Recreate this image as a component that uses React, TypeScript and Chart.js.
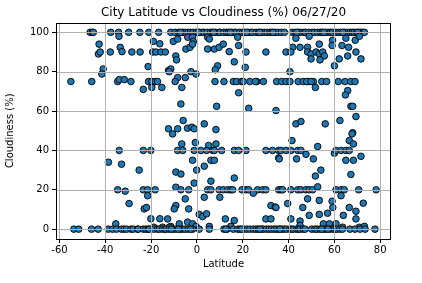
import React, { useEffect, useRef } from "react";
import { Chart, registerables } from "chart.js";

Chart.register(...registerables);

const chartTitle = "City Latitude vs Cloudiness (%) 06/27/20";
const xTickValues = [-60, -40, -20, 0, 20, 40, 60, 80];
const yTickValues = [0, 20, 40, 60, 80, 100];

const cloud100Lats = [-46.6, -45.6, -45.2, -37.6, -34.2, -29.8, -24.9, -21.0, -16.7, -11.4, -9.5, -7.9, -6.2, -5.4, -3.9, -2.8, -1.7, -0.3, 1.2, 2.6, 3.1, 4.4, 5.9, 6.8, 8.2, 9.6, 10.1, 11.7, 12.9, 13.8, 15.2, 16.4, 17.1, 18.6, 19.9, 20.8, 22.3, 23.5, 24.2, 25.8, 26.9, 28.1, 29.4, 30.6, 31.8, 32.7, 34.1, 35.3, 36.8, 38.2, 41.6, 42.9, 44.2, 45.1, 46.7, 47.4, 48.8, 50.2, 51.3, 52.6, 53.9, 54.7, 56.1, 57.3, 58.4, 59.2, 60.7, 61.9, 62.8, 64.3, 65.4, 66.9, 67.8, 68.6, 69.7, 70.8, 71.5, 72.3, 73.1, -7.2, 0.6, 7.3, 14.6, 21.7, 27.4, 33.2, 43.6, 55.4, 63.7, 70.2];

const cloud75Lats = [-55.0, -45.9, -34.6, -28.8, -21.1, -19.7, -18.2, -17.2, -9.5, 7.9, 11.8, 15.9, 17.3, 19.5, 20.2, 23.1, 26.1, 29.0, 34.8, 37.0, 38.9, 40.6, 44.2, 46.4, 48.6, 50.8, 54.5, 56.6, 61.7, 64.6, 67.1, 69.0, 25.5, 47.9, 49.8];

const cloud40Lats = [-33.9, -23.4, -20.1, -8.4, -6.2, -1.2, 1.7, 6.9, 7.6, 16.3, 18.2, 21.4, 30.1, 33.0, 35.7, 36.7, 38.9, 41.0, 44.0, 45.4, 60.7, 62.9, 65.0, 66.5, 4.2, 10.8];

const cloud20Lats = [-34.6, -23.4, -21.5, -18.2, -7.0, -3.6, 4.7, 6.1, 9.7, 11.5, 13.4, 14.8, 15.6, 19.7, 21.4, 22.6, 26.5, 28.7, 30.1, 35.7, 36.7, 37.4, 41.0, 44.0, 45.4, 47.6, 49.0, 50.5, 60.7, 62.9, 64.3, 70.6, 78.2];

const cloud0Lats = [-53.7, -51.6, -46.0, -43.1, -38.7, -36.8, -35.1, -32.9, -31.7, -30.7, -28.8, -27.8, -25.9, -25.6, -23.4, -22.3, -21.3, -20.8, -18.8, -17.2, -16.4, -15.0, -14.0, -13.5, -12.1, -10.3, -9.2, -7.4, -6.3, -5.2, -3.8, -1.9, 1.0, 5.4, 11.8, 13.2, 15.9, 17.8, 18.8, 20.4, 21.7, 23.1, 24.6, 25.8, 26.8, 28.2, 29.0, 30.4, 31.5, 32.6, 33.8, 34.8, 35.9, 37.0, 38.1, 39.2, 40.6, 41.3, 42.1, 43.5, 44.3, 45.0, 46.4, 47.2, 50.1, 51.5, 52.4, 53.7, 55.2, 56.3, 58.1, 59.5, 60.2, 61.0, 62.4, 63.5, 66.8, 69.0, 71.2, 73.4, 77.7, -11.2, -8.1, -2.7, 12.6, 19.6, 27.5, 36.2, 54.4, 57.2];

const upperCities: [number, number][] = [
  [-34.0, 98], [-10.3, 95.4], [-8.4, 96.6], [-4.0, 97.5], [-1.9, 97.5], [-1.6, 95.4], [4.7, 97.5], [5.4, 96.6], [17.8, 97.5], [18.2, 93.3],
  [43.2, 97], [49.0, 98], [59.2, 96], [65.0, 97], [69.1, 96], [70.9, 98], [-42.7, 94], [-19.0, 95.4], [-16.2, 94.2], [-43.0, 89],
  [-42.2, 90], [-37.8, 90], [-33.5, 92.4], [-32.7, 90.2], [-28.4, 90], [-24.8, 90], [-19.3, 90], [-17.9, 90], [-15.7, 90], [-13.8, 90],
  [-4.8, 91.5], [-3.0, 92.4], [-1.9, 94], [4.7, 91.5], [7.6, 91.5], [9.7, 92.4], [11.5, 94], [14.1, 90.2], [21.4, 90], [30.1, 90],
  [41.8, 92.4], [45.0, 92.4], [48.3, 92.4], [53.4, 94], [59.0, 93.3], [63.3, 93.3], [66.2, 92.4], [38.9, 90], [41.0, 90], [48.3, 90],
  [49.8, 89], [52.0, 90], [53.4, 89], [54.9, 90], [55.6, 88], [49.8, 86.5], [53.7, 86], [62.1, 86.5], [65.8, 88], [69.4, 90],
  [71.6, 86.5], [-9.2, 88], [-8.9, 86], [16.3, 85], [-40.9, 81.4], [-41.5, 78.8], [-21.3, 82.6], [-12.4, 80.6], [9.0, 83], [8.0, 81],
  [-11.4, 81.4], [-12.1, 80], [-2.6, 80], [-0.4, 78.8], [21.1, 82.2], [60.0, 83], [40.6, 80], [-8.4, 77], [-5.1, 77],
];

const middleCities: [number, number][] = [
  [-33.9, 76], [-31.7, 76], [-23.4, 71], [-19.7, 72], [-15.3, 72], [-6.6, 72], [18.2, 69.3], [51.7, 72], [65.8, 70.4], [64.8, 68.2],
  [-7.0, 63.6], [8.6, 62.4], [22.6, 61.4], [34.5, 60.3], [67.2, 62.4], [68.0, 62.4], [-12.4, 51], [-6.0, 55.2], [-4.1, 51.3], [-2.2, 51.8],
  [3.2, 53.5], [8.3, 50.6], [43.2, 53.5], [45.4, 54.7], [56.0, 53.5], [62.4, 55.2], [69.4, 57.2], [68.0, 49], [-10.6, 48.4], [-8.4, 51],
  [-1.2, 51], [67.7, 48.4], [66.5, 45], [68.3, 43.3], [41.5, 45], [52.7, 42], [-6.6, 43.3], [-0.7, 44], [5.1, 42.5], [8.3, 43.3],
  [35.7, 36.2], [-1.9, 35], [6.1, 35], [7.6, 35], [35.9, 35.7], [43.5, 35.7], [47.6, 38], [50.8, 35.7], [60.0, 38.6], [65.0, 35],
  [68.3, 35], [71.6, 37], [-38.6, 34], [-32.9, 33], [-25.2, 30], [-0.1, 30], [3.2, 32], [-9.2, 29], [-7.0, 28], [54.1, 30],
  [51.7, 27], [67.2, 27.8], [-1.2, 23.4], [6.1, 24.4], [16.3, 26], [-9.2, 21.3],
];

const lowerCities: [number, number][] = [
  [-31.3, 19.3], [-21.5, 17], [24.6, 18.3], [52.7, 21.5], [62.9, 17], [10.0, 16.2], [3.2, 16.2], [-5.1, 15.4], [-29.6, 13], [-9.2, 12],
  [-9.9, 10.3], [-3.6, 10.3], [32.3, 12], [34.2, 11.2], [-23.0, 10.3], [-22.0, 11], [34.5, 11], [39.6, 13], [46.2, 11], [48.3, 15.4],
  [53.4, 14.6], [59.0, 14.2], [59.3, 11], [66.5, 11], [69.4, 9.1], [72.6, 13.2], [1.0, 7.5], [2.5, 6.4], [4.2, 7.8], [-12.8, 5.2],
  [-4.1, 3.6], [-1.9, 2.7], [-0.4, 1.4], [5.4, 1.4], [12.4, 5.2], [16.3, 4.4], [14.8, 1.4], [30.1, 5.2], [32.3, 5.2], [-7.7, 2.7],
  [-11.4, 1.4], [-20.1, 5.3], [-16.2, 5.3], [-35.4, 2.7], [-18.8, 1], [-15.0, 1], [-12.1, 1], [41.0, 5.2], [45.0, 4.1], [49.0, 7],
  [53.4, 7.5], [57.0, 8.1], [63.9, 7], [69.4, 5.2], [45.0, 1.9], [55.2, 2.7], [57.8, 2.7], [60.7, 2.7], [63.6, 1], [70.9, 1], [73.1, 1.4],
];

const FONT = "'DejaVu Sans', sans-serif";

const overlayPlugin = {
  id: "mplOverlay",
  afterDatasetsDraw(chart: any) {
    const { ctx, chartArea } = chart;
    const xs = chart.scales.x;
    const ys = chart.scales.y;
    ctx.save();
    ctx.strokeStyle = "#b0b0b0";
    ctx.lineWidth = 1;
    ctx.beginPath();
    for (const v of xTickValues) {
      const px = Math.round(xs.getPixelForValue(v)) + 0.5;
      ctx.moveTo(px, chartArea.top);
      ctx.lineTo(px, chartArea.bottom);
    }
    for (const v of yTickValues) {
      const py = Math.round(ys.getPixelForValue(v)) + 0.5;
      ctx.moveTo(chartArea.left, py);
      ctx.lineTo(chartArea.right, py);
    }
    ctx.stroke();
    ctx.strokeStyle = "#000";
    ctx.lineWidth = 1;
    ctx.strokeRect(
      Math.round(chartArea.left) + 0.5,
      Math.round(chartArea.top) + 0.5,
      Math.round(chartArea.right - chartArea.left) - 1,
      Math.round(chartArea.bottom - chartArea.top) - 1
    );
    ctx.restore();
  },
};

export default function App() {
  const canvasRef = useRef<HTMLCanvasElement | null>(null);

  useEffect(() => {
    if (!canvasRef.current) return;
    const points = [
      ...cloud100Lats.map((x) => ({ x, y: 100 })),
      ...upperCities.map(([x, y]) => ({ x, y })),
      ...cloud75Lats.map((x) => ({ x, y: 75 })),
      ...middleCities.map(([x, y]) => ({ x, y })),
      ...cloud40Lats.map((x) => ({ x, y: 40 })),
      ...cloud20Lats.map((x) => ({ x, y: 20 })),
      ...lowerCities.map(([x, y]) => ({ x, y })),
      ...cloud0Lats.map((x) => ({ x, y: 0 })),
    ];
    const chart = new Chart(canvasRef.current, {
      type: "scatter",
      data: {
        datasets: [
          {
            label: "Cities",
            data: points,
            backgroundColor: "#1f77b4",
            borderColor: "#000000",
            borderWidth: 0.9,
            pointRadius: 3.3,
          },
        ],
      },
      options: {
        animation: false,
        responsive: false,
        devicePixelRatio: 1,
        layout: { padding: { left: 0, right: 31, top: 0, bottom: 0 } },
        plugins: {
          legend: { display: false },
          tooltip: { enabled: false },
          title: {
            display: true,
            text: chartTitle,
            fullSize: false,
            color: "#000",
            font: { family: FONT, size: 12, weight: "normal" },
            padding: { top: 5.5, bottom: 2.6 },
          },
        },
        scales: {
          x: {
            type: "linear",
            min: -61.5,
            max: 84.7,
            afterBuildTicks: (s: any) => {
              s.ticks = xTickValues.map((value) => ({ value }));
            },
            afterFit: (s: any) => {
              s.height = 44;
            },
            border: { display: false },
            grid: { display: true, drawOnChartArea: false, drawTicks: true, tickLength: 4, tickColor: "#000", color: "#000" },
            ticks: { color: "#000", font: { family: FONT, size: 10 }, padding: 1, maxRotation: 0, autoSkip: false },
            title: { display: true, text: "Latitude", color: "#000", font: { family: FONT, size: 10 }, padding: { top: 0, bottom: 12.5 } },
          },
          y: {
            type: "linear",
            min: -5,
            max: 105,
            afterBuildTicks: (s: any) => {
              s.ticks = yTickValues.map((value) => ({ value }));
            },
            afterFit: (s: any) => {
              s.width = 56;
            },
            border: { display: false },
            grid: { display: true, drawOnChartArea: false, drawTicks: true, tickLength: 4, tickColor: "#000", color: "#000" },
            ticks: { color: "#000", font: { family: FONT, size: 10 }, padding: 3, autoSkip: false },
            title: { display: true, text: "Cloudiness (%)", color: "#000", font: { family: FONT, size: 10 }, padding: { top: 4, bottom: 0 } },
          },
        },
      },
      plugins: [overlayPlugin],
    });
    return () => chart.destroy();
  }, []);

  return (
    <div style={{ position: "fixed", left: 0, top: 0, width: 422, height: 283, background: "#fff" }}>
      <canvas ref={canvasRef} width={422} height={283} />
    </div>
  );
}
